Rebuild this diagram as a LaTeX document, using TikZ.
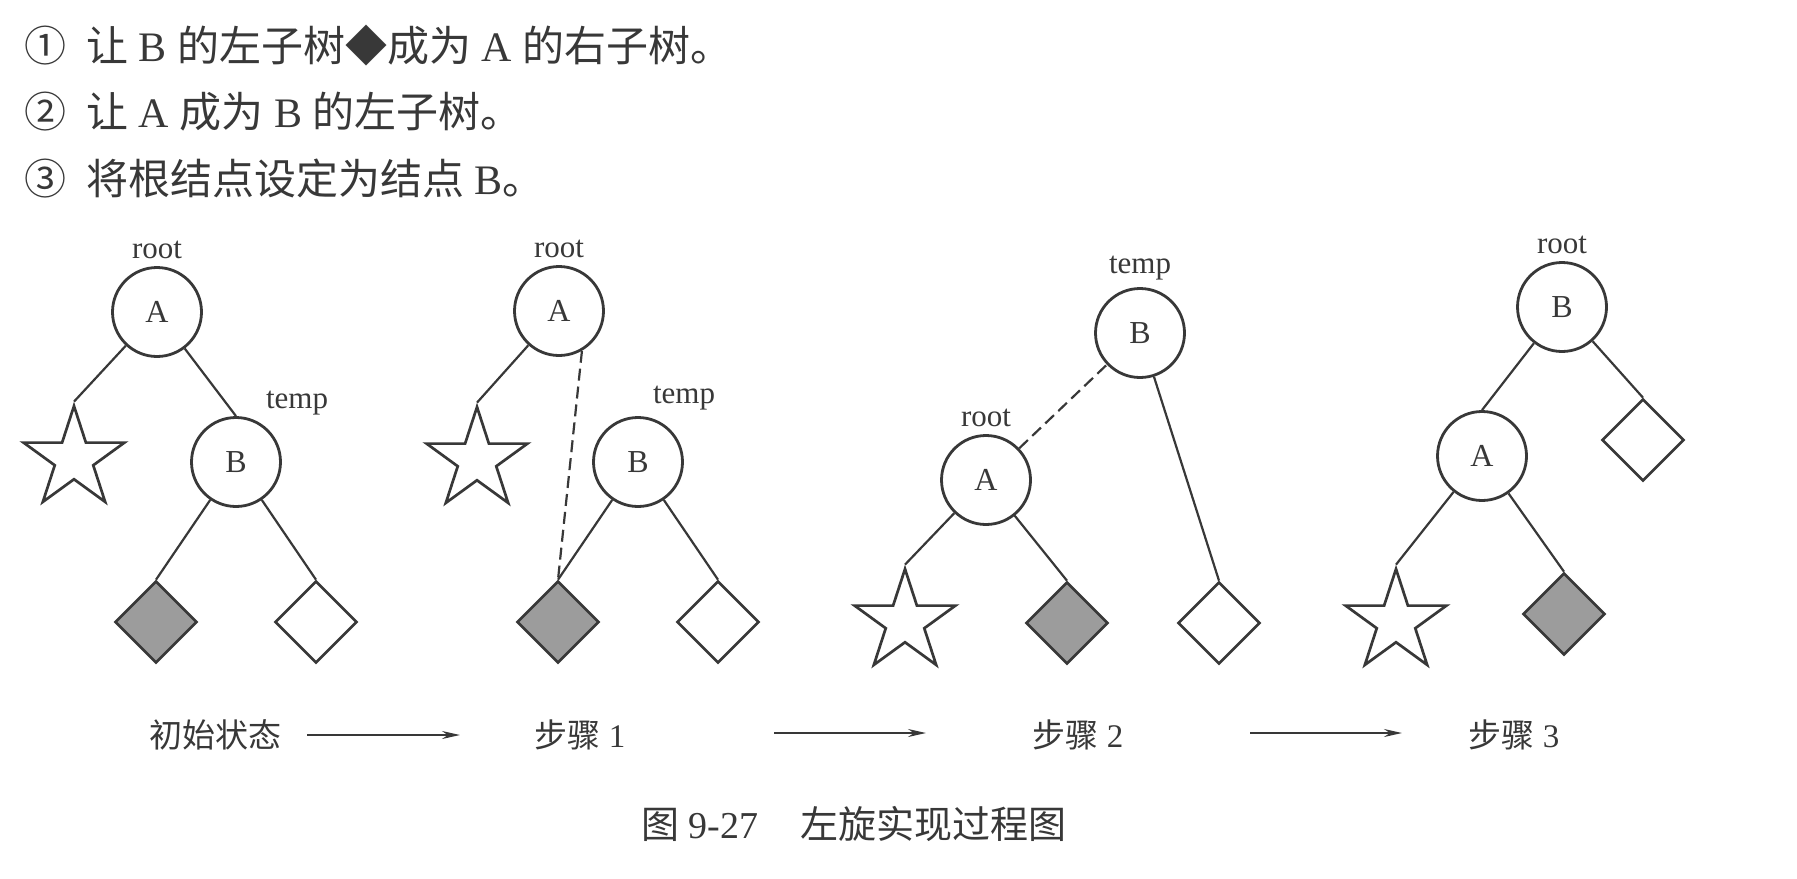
\documentclass[tikz,border=0pt]{standalone}
\usepackage{fontspec}
\setmainfont{Liberation Serif}
\newfontfamily\cjk{Noto Sans CJK SC}
\usetikzlibrary{shapes.geometric}
\usetikzlibrary{arrows.meta}
\definecolor{ink}{HTML}{383838}
\definecolor{leafgray}{HTML}{9C9C9C}
\tikzset{
  vertex/.style={shape=circle,draw=ink,line width=1.4pt,minimum size=44.5pt,inner sep=0,text=ink,font=\fontsize{16}{16}\selectfont},
  leafstar/.style={shape=star,star points=5,star point ratio=2.618,draw=ink,line width=1.35pt,minimum size=53pt,inner sep=0},
  leafbox/.style={shape=diamond,aspect=1,draw=ink,line width=1.3pt,minimum size=41pt,inner sep=0},
  leafgrey/.style={leafbox,fill=leafgray},
  every label/.style={text=ink,font=\fontsize{15.5}{15.5}\selectfont},
  link/.style={draw=ink,line width=1.1pt},
  dashlink/.style={link,dash pattern=on 6pt off 3pt},
  flow/.style={draw=ink,line width=1pt,-{Stealth[length=9pt,width=4pt]}},
  textline/.style={inner sep=0,text=ink,font=\fontsize{21}{21}\selectfont},
  steplabel/.style={inner sep=0,text=ink,font=\fontsize{16.5}{16.5}\selectfont}
}
\begin{document}
\begin{tikzpicture}[x=0.5pt,y=-0.5pt]
  \useasboundingbox (0,0) rectangle (1797,878);
  % the three steps
  \node[textline,anchor=west] (l1) at (24,46) {{\cjk ①\hspace{10pt}让} B {\cjk 的左子树◆成为} A {\cjk 的右子树。}};
  \node[textline,anchor=west] (l2) at (24,112) {{\cjk ②\hspace{10pt}让} A {\cjk 成为} B {\cjk 的左子树。}};
  \node[textline,anchor=west] (l3) at (24,179) {{\cjk ③\hspace{10pt}将根结点设定为结点} B{\cjk 。}};
  % initial state
  \node[vertex,label=above:root] (a1) at (157,312) {A};
  \node[vertex,label=60:temp] (b1) at (236,462) {B};
  \node[leafstar] (s1) at (74,459) {};
  \node[leafgrey] (g1) at (156,622) {};
  \node[leafbox] (w1) at (316,622) {};
  \begin{scope}
    \draw[link] (a1) -- (s1.north);
    \draw[link] (a1) -- (b1.north);
    \draw[link] (b1) -- (g1.north);
    \draw[link] (b1) -- (w1.north);
  \end{scope}
  % step 1
  \node[vertex,label=above:root] (a2) at (559,311) {A};
  \node[vertex,label=80:temp] (b2) at (638,462) {B};
  \node[leafstar] (s2) at (477,460) {};
  \node[leafgrey] (g2) at (558,622) {};
  \node[leafbox] (w2) at (718,622) {};
  \begin{scope}
    \draw[link] (a2) -- (s2.north);
    \draw[dashlink] (a2.-60) -- (g2.north);
    \draw[link] (b2) -- (g2.north);
    \draw[link] (b2) -- (w2.north);
  \end{scope}
  % step 2
  \node[vertex,label=above:temp] (b3) at (1140,333) {B};
  \node[vertex,label=above:root] (a3) at (986,480) {A};
  \node[leafstar] (s3) at (905,622) {};
  \node[leafgrey] (g3) at (1067,623) {};
  \node[leafbox] (w3) at (1219,623) {};
  \begin{scope}
    \draw[dashlink] (a3) -- (b3);
    \draw[link] (a3) -- (s3.north);
    \draw[link] (a3) -- (g3.north);
    \draw[link] (b3) -- (w3.north);
  \end{scope}
  % step 3
  \node[vertex,label=above:root] (b4) at (1562,307) {B};
  \node[vertex] (a4) at (1482,456) {A};
  \node[leafbox] (w4) at (1643,440) {};
  \node[leafstar] (s4) at (1396,622) {};
  \node[leafgrey] (g4) at (1564,614) {};
  \begin{scope}
    \draw[link] (b4) -- (a4.north);
    \draw[link] (b4) -- (w4.north);
    \draw[link] (a4) -- (s4.north);
    \draw[link] (a4) -- (g4.north);
  \end{scope}
  % labels and arrows below
  \node[steplabel] (t0) at (215,735) {\cjk 初始状态};
  \node[steplabel] (t1) at (580,735) {{\cjk 步骤} 1};
  \node[steplabel] (t2) at (1078,735) {{\cjk 步骤} 2};
  \node[steplabel] (t3) at (1514,735) {{\cjk 步骤} 3};
  \coordinate (f0) at (307,735);
  \coordinate (f1) at (460,735);
  \coordinate (f2) at (774,733);
  \coordinate (f3) at (926,733);
  \coordinate (f4) at (1250,733);
  \coordinate (f5) at (1402,733);
  \draw[flow] (f0) -- (f1);
  \draw[flow] (f2) -- (f3);
  \draw[flow] (f4) -- (f5);
  \node[inner sep=0,text=ink,font=\fontsize{19}{19}\selectfont,anchor=west] (cap) at (641,824) {{\cjk 图} 9-27\hspace{1.1em}{\cjk 左旋实现过程图}};
\end{tikzpicture}
\end{document}
